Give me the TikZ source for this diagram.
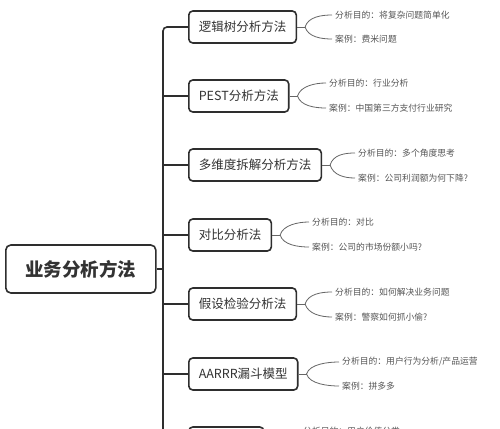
\documentclass[tikz,border=0pt]{standalone}
\usepackage{fontspec}
\setmainfont{Noto Sans CJK SC}
\usetikzlibrary{calc}
\definecolor{edge}{HTML}{2E2E2E}
\definecolor{boxtxt}{HTML}{333333}
\definecolor{leaftxt}{HTML}{555555}
\definecolor{leafline}{HTML}{666666}
\tikzset{
  mbox/.style={draw=edge, line width=1.6pt, rounded corners=4pt, minimum height=32pt,
    inner xsep=10pt, fill=white, text=boxtxt, font=\fontsize{12.5}{14}\selectfont, anchor=west},
  rootbox/.style={draw=edge, line width=1.6pt, rounded corners=5pt, minimum height=48pt,
    minimum width=150pt, fill=white, text=boxtxt, font=\fontsize{18.5}{20}\selectfont\bfseries, anchor=west},
  leaf/.style={text=leaftxt, font=\fontsize{8.8}{10}\selectfont, anchor=west, inner sep=0pt},
  trunk/.style={draw=edge, line width=1.6pt},
  leafc/.style={draw=leafline, line width=0.8pt},
}
\begin{document}
\begin{tikzpicture}[x=1pt,y=-1pt]
\useasboundingbox (0,0) rectangle (500,428);
\clip (0,0) rectangle (500,428);
\fill[white] (0,0) rectangle (500,428);

\node[rootbox] (root) at (5,269) {业务分析方法};

\node[mbox] (b1) at (188,27) {逻辑树分析方法};
\node[mbox] (b2) at (188,96) {PEST分析方法};
\node[mbox] (b3) at (188,165) {多维度拆解分析方法};
\node[mbox] (b4) at (188,235) {对比分析法};
\node[mbox] (b5) at (188,304) {假设检验分析法};
\node[mbox] (b6) at (188,374) {AARRR漏斗模型};
\node[mbox, minimum width=75pt] (b7) at (188,443) {};

\coordinate (tb) at (163,460);
\draw[trunk, rounded corners=4pt] (b1.west) -| (tb);
\foreach \b in {b2,b3,b4,b5,b6,b7} { \draw[trunk] (\b.west) -- (\b.west -| tb); }
\draw[trunk] (root.east) -- (root.east -| tb);

% leaves
\node[leaf] (l1a) at (335,15) {分析目的：将复杂问题简单化};
\node[leaf] (l1b) at (335,39) {案例：费米问题};
\node[leaf] (l2a) at (329,83) {分析目的：行业分析};
\node[leaf] (l2b) at (329,108) {案例：中国第三方支付行业研究};
\node[leaf] (l3a) at (358,153) {分析目的：多个角度思考};
\node[leaf] (l3b) at (358,178) {案例：公司利润额为何下降?};
\node[leaf] (l4a) at (312,222) {分析目的：对比};
\node[leaf] (l4b) at (312,247) {案例：公司的市场份额小吗?};
\node[leaf] (l5a) at (335,292) {分析目的：如何解决业务问题};
\node[leaf] (l5b) at (335,317) {案例：警察如何抓小偷?};
\node[leaf] (l6a) at (342,362) {分析目的：用户行为分析/产品运营};
\node[leaf] (l6b) at (342,386) {案例：拼多多};
\node[leaf] (l7a) at (303,431) {分析目的：用户价值分类};

\foreach \b/\u/\d in {b1/l1a/l1b, b2/l2a/l2b, b3/l3a/l3b, b4/l4a/l4b, b5/l5a/l5b, b6/l6a/l6b} {
  \coordinate (j) at ($(\b.east)+(8,0)$);
  \draw[leafc] (\b.east) -- (j);
  \draw[leafc] (j) .. controls ($(j)+(3,-10)$) and ($(\u.west)+(-14,0)$) .. ($(\u.west)+(-3,0)$);
  \draw[leafc] (j) .. controls ($(j)+(3,10)$) and ($(\d.west)+(-14,0)$) .. ($(\d.west)+(-3,0)$);
}
\coordinate (j7) at ($(b7.east)+(8,0)$);
\draw[leafc] (b7.east) -- (j7);
\draw[leafc] (j7) .. controls ($(j7)+(3,-10)$) and ($(l7a.west)+(-14,0)$) .. ($(l7a.west)+(-3,0)$);
\end{tikzpicture}
\end{document}
